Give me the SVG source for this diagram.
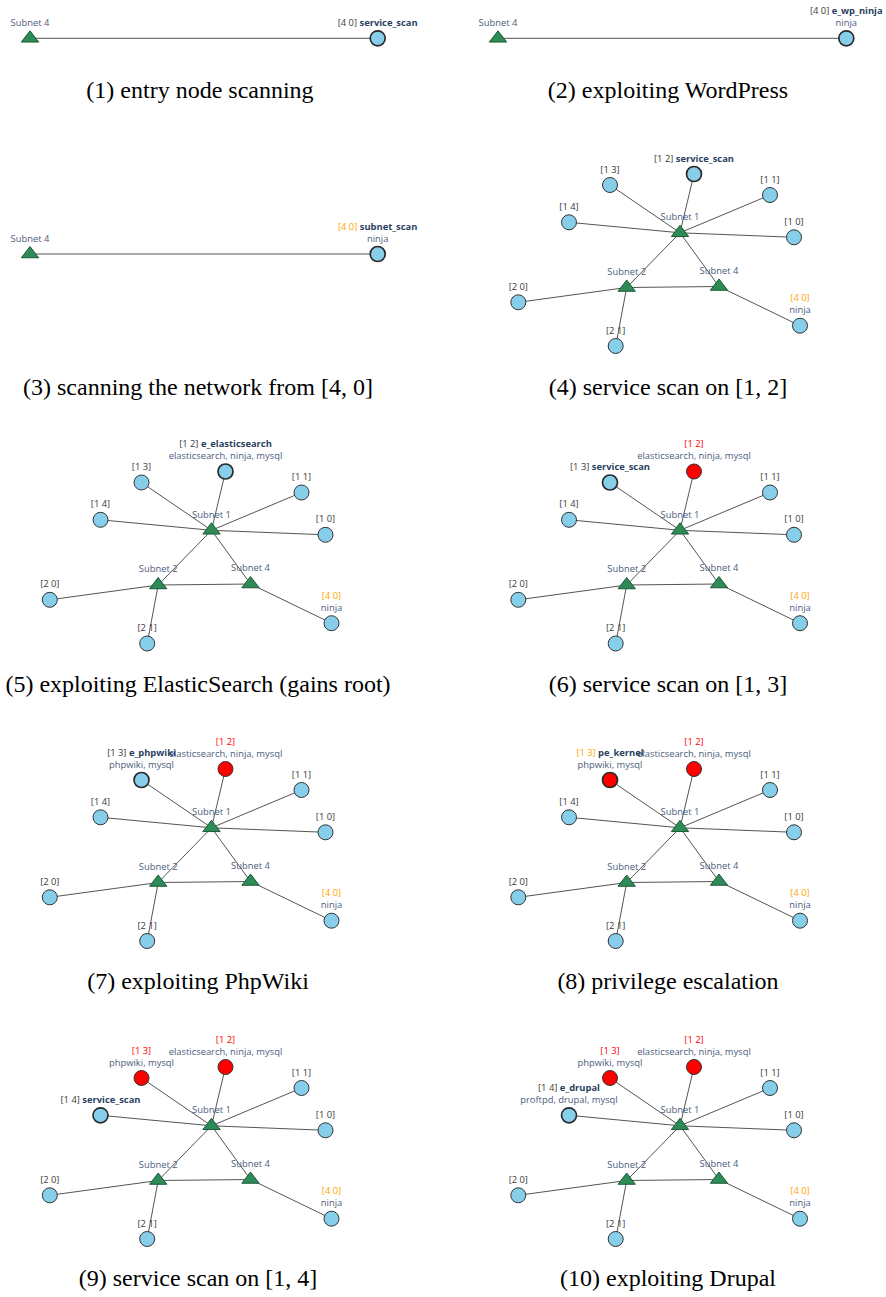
<svg xmlns="http://www.w3.org/2000/svg" xmlns:xlink="http://www.w3.org/1999/xlink" width="886" height="1297" viewBox="0 0 886 1297">
<style>
.tri{fill:#2e8b57;stroke:#1d5a36;stroke-width:1}
.host{fill:#87ceeb;stroke:#333;stroke-width:1}
.pwn{fill:#ff0000}
.cur{stroke-width:1.7;stroke:#2a2a2a}
.e{stroke:#555;stroke-width:1;fill:none}
.lbl{font-family:"Open Sans","Noto Sans",sans-serif;font-size:9.4px;text-anchor:middle;fill:#4c5d7d}
.id{fill:#3a3a3a}
.idr{fill:#ff0000}
.ido{fill:#ffa500}
.act{font-weight:bold;fill:#2a3f5f}
.cap{font-family:"Liberation Serif","Times New Roman",serif;font-size:24px;text-anchor:middle;fill:#000}
</style>
<defs>
<path id="tri" d="M-8.66,3.75H8.66L0,-7.5Z"/>
</defs>
<rect width="886" height="1297" fill="#fff"/>

<!-- Panel 1 -->
<g id="panel1">
<g id="p1-edges"><line class="e" x1="30" y1="38.3" x2="377.7" y2="38.3"/></g>
<g id="p1-s4"><use xlink:href="#tri" href="#tri" class="tri" x="30" y="38.3"/><text class="lbl" x="30" y="25.8">Subnet 4</text></g>
<g id="p1-n40"><circle class="host cur" cx="377.7" cy="38.3" r="7.5"/><text class="lbl" x="377.7" y="25.8"><tspan class="id">[4 0]</tspan> <tspan class="act">service_scan</tspan></text></g>
</g>

<!-- Panel 2 -->
<g id="panel2">
<g id="p2-edges"><line class="e" x1="498" y1="38.3" x2="846.3" y2="38.3"/></g>
<g id="p2-s4"><use xlink:href="#tri" href="#tri" class="tri" x="498" y="38.3"/><text class="lbl" x="498" y="25.8">Subnet 4</text></g>
<g id="p2-n40"><circle class="host cur" cx="846.3" cy="38.3" r="7.5"/><text class="lbl" x="846.3" y="13.8"><tspan class="id">[4 0]</tspan> <tspan class="act">e_wp_ninja</tspan></text><text class="lbl" x="846.3" y="25.8">ninja</text></g>
</g>

<!-- Panel 3 -->
<g id="panel3">
<g id="p3-edges"><line class="e" x1="30" y1="254" x2="377.7" y2="254"/></g>
<g id="p3-s4"><use xlink:href="#tri" href="#tri" class="tri" x="30" y="254"/><text class="lbl" x="30" y="241.5">Subnet 4</text></g>
<g id="p3-n40"><circle class="host cur" cx="377.7" cy="254" r="7.5"/><text class="lbl" x="377.7" y="229.5"><tspan class="ido">[4 0]</tspan> <tspan class="act">subnet_scan</tspan></text><text class="lbl" x="377.7" y="241.5">ninja</text></g>
</g>

<!-- Panel 4 -->
<g id="panel4">
<g id="p4-edges">
<line class="e" x1="680" y1="232.8" x2="694" y2="174"/>
<line class="e" x1="680" y1="232.8" x2="610" y2="185"/>
<line class="e" x1="680" y1="232.8" x2="770" y2="195"/>
<line class="e" x1="680" y1="232.8" x2="569" y2="222.3"/>
<line class="e" x1="680" y1="232.8" x2="794" y2="237.3"/>
<line class="e" x1="680" y1="232.8" x2="626.7" y2="287.5"/>
<line class="e" x1="680" y1="232.8" x2="719" y2="286.5"/>
<line class="e" x1="626.7" y1="287.5" x2="719" y2="286.5"/>
<line class="e" x1="626.7" y1="287.5" x2="518.3" y2="302.3"/>
<line class="e" x1="626.7" y1="287.5" x2="615.7" y2="346"/>
<line class="e" x1="719" y1="286.5" x2="800" y2="325.7"/>
</g>
<g id="p4-s1"><use xlink:href="#tri" href="#tri" class="tri" x="680" y="232.8"/><text class="lbl" x="680" y="220.3">Subnet 1</text></g>
<g id="p4-s2"><use xlink:href="#tri" href="#tri" class="tri" x="626.7" y="287.5"/><text class="lbl" x="626.7" y="274.8">Subnet 2</text></g>
<g id="p4-s4"><use xlink:href="#tri" href="#tri" class="tri" x="719" y="286.5"/><text class="lbl" x="719" y="273.8">Subnet 4</text></g>
<g id="p4-n12"><circle class="host cur" cx="694" cy="174" r="7.5"/><text class="lbl" x="694" y="161.5"><tspan class="id">[1 2]</tspan> <tspan class="act">service_scan</tspan></text></g>
<g id="p4-n13"><circle class="host" cx="610" cy="185" r="7.5"/><text class="lbl id" x="610" y="172.5">[1 3]</text></g>
<g id="p4-n11"><circle class="host" cx="770" cy="195" r="7.5"/><text class="lbl id" x="770" y="182.5">[1 1]</text></g>
<g id="p4-n14"><circle class="host" cx="569" cy="222.3" r="7.5"/><text class="lbl id" x="569" y="209.8">[1 4]</text></g>
<g id="p4-n10"><circle class="host" cx="794" cy="237.3" r="7.5"/><text class="lbl id" x="794" y="224.8">[1 0]</text></g>
<g id="p4-n20"><circle class="host" cx="518.3" cy="302.3" r="7.5"/><text class="lbl id" x="518.3" y="289.8">[2 0]</text></g>
<g id="p4-n21"><circle class="host" cx="615.7" cy="346" r="7.5"/><text class="lbl id" x="615.7" y="333.5">[2 1]</text></g>
<g id="p4-n40"><circle class="host" cx="800" cy="325.7" r="7.5"/><text class="lbl ido" x="800" y="301.2">[4 0]</text><text class="lbl" x="800" y="313.2">ninja</text></g>
</g>

<!-- Panel 5 -->
<g id="panel5" transform="translate(-468.5,297.5)">
<g id="p5-edges">
<line class="e" x1="680" y1="232.8" x2="694" y2="174"/>
<line class="e" x1="680" y1="232.8" x2="610" y2="185"/>
<line class="e" x1="680" y1="232.8" x2="770" y2="195"/>
<line class="e" x1="680" y1="232.8" x2="569" y2="222.3"/>
<line class="e" x1="680" y1="232.8" x2="794" y2="237.3"/>
<line class="e" x1="680" y1="232.8" x2="626.7" y2="287.5"/>
<line class="e" x1="680" y1="232.8" x2="719" y2="286.5"/>
<line class="e" x1="626.7" y1="287.5" x2="719" y2="286.5"/>
<line class="e" x1="626.7" y1="287.5" x2="518.3" y2="302.3"/>
<line class="e" x1="626.7" y1="287.5" x2="615.7" y2="346"/>
<line class="e" x1="719" y1="286.5" x2="800" y2="325.7"/>
</g>
<g id="p5-s1"><use xlink:href="#tri" href="#tri" class="tri" x="680" y="232.8"/><text class="lbl" x="680" y="220.3">Subnet 1</text></g>
<g id="p5-s2"><use xlink:href="#tri" href="#tri" class="tri" x="626.7" y="287.5"/><text class="lbl" x="626.7" y="274.8">Subnet 2</text></g>
<g id="p5-s4"><use xlink:href="#tri" href="#tri" class="tri" x="719" y="286.5"/><text class="lbl" x="719" y="273.8">Subnet 4</text></g>
<g id="p5-n12"><circle class="host cur" cx="694" cy="174" r="7.5"/><text class="lbl" x="694" y="149.5"><tspan class="id">[1 2]</tspan> <tspan class="act">e_elasticsearch</tspan></text><text class="lbl" x="694" y="161.5">elasticsearch, ninja, mysql</text></g>
<g id="p5-n13"><circle class="host" cx="610" cy="185" r="7.5"/><text class="lbl id" x="610" y="172.5">[1 3]</text></g>
<g id="p5-n11"><circle class="host" cx="770" cy="195" r="7.5"/><text class="lbl id" x="770" y="182.5">[1 1]</text></g>
<g id="p5-n14"><circle class="host" cx="569" cy="222.3" r="7.5"/><text class="lbl id" x="569" y="209.8">[1 4]</text></g>
<g id="p5-n10"><circle class="host" cx="794" cy="237.3" r="7.5"/><text class="lbl id" x="794" y="224.8">[1 0]</text></g>
<g id="p5-n20"><circle class="host" cx="518.3" cy="302.3" r="7.5"/><text class="lbl id" x="518.3" y="289.8">[2 0]</text></g>
<g id="p5-n21"><circle class="host" cx="615.7" cy="346" r="7.5"/><text class="lbl id" x="615.7" y="333.5">[2 1]</text></g>
<g id="p5-n40"><circle class="host" cx="800" cy="325.7" r="7.5"/><text class="lbl ido" x="800" y="301.2">[4 0]</text><text class="lbl" x="800" y="313.2">ninja</text></g>
</g>

<!-- Panel 6 -->
<g id="panel6" transform="translate(0,297.5)">
<g id="p6-edges">
<line class="e" x1="680" y1="232.8" x2="694" y2="174"/>
<line class="e" x1="680" y1="232.8" x2="610" y2="185"/>
<line class="e" x1="680" y1="232.8" x2="770" y2="195"/>
<line class="e" x1="680" y1="232.8" x2="569" y2="222.3"/>
<line class="e" x1="680" y1="232.8" x2="794" y2="237.3"/>
<line class="e" x1="680" y1="232.8" x2="626.7" y2="287.5"/>
<line class="e" x1="680" y1="232.8" x2="719" y2="286.5"/>
<line class="e" x1="626.7" y1="287.5" x2="719" y2="286.5"/>
<line class="e" x1="626.7" y1="287.5" x2="518.3" y2="302.3"/>
<line class="e" x1="626.7" y1="287.5" x2="615.7" y2="346"/>
<line class="e" x1="719" y1="286.5" x2="800" y2="325.7"/>
</g>
<g id="p6-s1"><use xlink:href="#tri" href="#tri" class="tri" x="680" y="232.8"/><text class="lbl" x="680" y="220.3">Subnet 1</text></g>
<g id="p6-s2"><use xlink:href="#tri" href="#tri" class="tri" x="626.7" y="287.5"/><text class="lbl" x="626.7" y="274.8">Subnet 2</text></g>
<g id="p6-s4"><use xlink:href="#tri" href="#tri" class="tri" x="719" y="286.5"/><text class="lbl" x="719" y="273.8">Subnet 4</text></g>
<g id="p6-n12"><circle class="host pwn" cx="694" cy="174" r="7.5"/><text class="lbl idr" x="694" y="149.5">[1 2]</text><text class="lbl" x="694" y="161.5">elasticsearch, ninja, mysql</text></g>
<g id="p6-n13"><circle class="host cur" cx="610" cy="185" r="7.5"/><text class="lbl" x="610" y="172.5"><tspan class="id">[1 3]</tspan> <tspan class="act">service_scan</tspan></text></g>
<g id="p6-n11"><circle class="host" cx="770" cy="195" r="7.5"/><text class="lbl id" x="770" y="182.5">[1 1]</text></g>
<g id="p6-n14"><circle class="host" cx="569" cy="222.3" r="7.5"/><text class="lbl id" x="569" y="209.8">[1 4]</text></g>
<g id="p6-n10"><circle class="host" cx="794" cy="237.3" r="7.5"/><text class="lbl id" x="794" y="224.8">[1 0]</text></g>
<g id="p6-n20"><circle class="host" cx="518.3" cy="302.3" r="7.5"/><text class="lbl id" x="518.3" y="289.8">[2 0]</text></g>
<g id="p6-n21"><circle class="host" cx="615.7" cy="346" r="7.5"/><text class="lbl id" x="615.7" y="333.5">[2 1]</text></g>
<g id="p6-n40"><circle class="host" cx="800" cy="325.7" r="7.5"/><text class="lbl ido" x="800" y="301.2">[4 0]</text><text class="lbl" x="800" y="313.2">ninja</text></g>
</g>

<!-- Panel 7 -->
<g id="panel7" transform="translate(-468.5,595)">
<g id="p7-edges">
<line class="e" x1="680" y1="232.8" x2="694" y2="174"/>
<line class="e" x1="680" y1="232.8" x2="610" y2="185"/>
<line class="e" x1="680" y1="232.8" x2="770" y2="195"/>
<line class="e" x1="680" y1="232.8" x2="569" y2="222.3"/>
<line class="e" x1="680" y1="232.8" x2="794" y2="237.3"/>
<line class="e" x1="680" y1="232.8" x2="626.7" y2="287.5"/>
<line class="e" x1="680" y1="232.8" x2="719" y2="286.5"/>
<line class="e" x1="626.7" y1="287.5" x2="719" y2="286.5"/>
<line class="e" x1="626.7" y1="287.5" x2="518.3" y2="302.3"/>
<line class="e" x1="626.7" y1="287.5" x2="615.7" y2="346"/>
<line class="e" x1="719" y1="286.5" x2="800" y2="325.7"/>
</g>
<g id="p7-s1"><use xlink:href="#tri" href="#tri" class="tri" x="680" y="232.8"/><text class="lbl" x="680" y="220.3">Subnet 1</text></g>
<g id="p7-s2"><use xlink:href="#tri" href="#tri" class="tri" x="626.7" y="287.5"/><text class="lbl" x="626.7" y="274.8">Subnet 2</text></g>
<g id="p7-s4"><use xlink:href="#tri" href="#tri" class="tri" x="719" y="286.5"/><text class="lbl" x="719" y="273.8">Subnet 4</text></g>
<g id="p7-n12"><circle class="host pwn" cx="694" cy="174" r="7.5"/><text class="lbl idr" x="694" y="149.5">[1 2]</text><text class="lbl" x="694" y="161.5">elasticsearch, ninja, mysql</text></g>
<g id="p7-n13"><circle class="host cur" cx="610" cy="185" r="7.5"/><text class="lbl" x="610" y="160.5"><tspan class="id">[1 3]</tspan> <tspan class="act">e_phpwiki</tspan></text><text class="lbl" x="610" y="172.5">phpwiki, mysql</text></g>
<g id="p7-n11"><circle class="host" cx="770" cy="195" r="7.5"/><text class="lbl id" x="770" y="182.5">[1 1]</text></g>
<g id="p7-n14"><circle class="host" cx="569" cy="222.3" r="7.5"/><text class="lbl id" x="569" y="209.8">[1 4]</text></g>
<g id="p7-n10"><circle class="host" cx="794" cy="237.3" r="7.5"/><text class="lbl id" x="794" y="224.8">[1 0]</text></g>
<g id="p7-n20"><circle class="host" cx="518.3" cy="302.3" r="7.5"/><text class="lbl id" x="518.3" y="289.8">[2 0]</text></g>
<g id="p7-n21"><circle class="host" cx="615.7" cy="346" r="7.5"/><text class="lbl id" x="615.7" y="333.5">[2 1]</text></g>
<g id="p7-n40"><circle class="host" cx="800" cy="325.7" r="7.5"/><text class="lbl ido" x="800" y="301.2">[4 0]</text><text class="lbl" x="800" y="313.2">ninja</text></g>
</g>

<!-- Panel 8 -->
<g id="panel8" transform="translate(0,595)">
<g id="p8-edges">
<line class="e" x1="680" y1="232.8" x2="694" y2="174"/>
<line class="e" x1="680" y1="232.8" x2="610" y2="185"/>
<line class="e" x1="680" y1="232.8" x2="770" y2="195"/>
<line class="e" x1="680" y1="232.8" x2="569" y2="222.3"/>
<line class="e" x1="680" y1="232.8" x2="794" y2="237.3"/>
<line class="e" x1="680" y1="232.8" x2="626.7" y2="287.5"/>
<line class="e" x1="680" y1="232.8" x2="719" y2="286.5"/>
<line class="e" x1="626.7" y1="287.5" x2="719" y2="286.5"/>
<line class="e" x1="626.7" y1="287.5" x2="518.3" y2="302.3"/>
<line class="e" x1="626.7" y1="287.5" x2="615.7" y2="346"/>
<line class="e" x1="719" y1="286.5" x2="800" y2="325.7"/>
</g>
<g id="p8-s1"><use xlink:href="#tri" href="#tri" class="tri" x="680" y="232.8"/><text class="lbl" x="680" y="220.3">Subnet 1</text></g>
<g id="p8-s2"><use xlink:href="#tri" href="#tri" class="tri" x="626.7" y="287.5"/><text class="lbl" x="626.7" y="274.8">Subnet 2</text></g>
<g id="p8-s4"><use xlink:href="#tri" href="#tri" class="tri" x="719" y="286.5"/><text class="lbl" x="719" y="273.8">Subnet 4</text></g>
<g id="p8-n12"><circle class="host pwn" cx="694" cy="174" r="7.5"/><text class="lbl idr" x="694" y="149.5">[1 2]</text><text class="lbl" x="694" y="161.5">elasticsearch, ninja, mysql</text></g>
<g id="p8-n13"><circle class="host pwn cur" cx="610" cy="185" r="7.5"/><text class="lbl" x="610" y="160.5"><tspan class="ido">[1 3]</tspan> <tspan class="act">pe_kernel</tspan></text><text class="lbl" x="610" y="172.5">phpwiki, mysql</text></g>
<g id="p8-n11"><circle class="host" cx="770" cy="195" r="7.5"/><text class="lbl id" x="770" y="182.5">[1 1]</text></g>
<g id="p8-n14"><circle class="host" cx="569" cy="222.3" r="7.5"/><text class="lbl id" x="569" y="209.8">[1 4]</text></g>
<g id="p8-n10"><circle class="host" cx="794" cy="237.3" r="7.5"/><text class="lbl id" x="794" y="224.8">[1 0]</text></g>
<g id="p8-n20"><circle class="host" cx="518.3" cy="302.3" r="7.5"/><text class="lbl id" x="518.3" y="289.8">[2 0]</text></g>
<g id="p8-n21"><circle class="host" cx="615.7" cy="346" r="7.5"/><text class="lbl id" x="615.7" y="333.5">[2 1]</text></g>
<g id="p8-n40"><circle class="host" cx="800" cy="325.7" r="7.5"/><text class="lbl ido" x="800" y="301.2">[4 0]</text><text class="lbl" x="800" y="313.2">ninja</text></g>
</g>

<!-- Panel 9 -->
<g id="panel9" transform="translate(-468.5,893)">
<g id="p9-edges">
<line class="e" x1="680" y1="232.8" x2="694" y2="174"/>
<line class="e" x1="680" y1="232.8" x2="610" y2="185"/>
<line class="e" x1="680" y1="232.8" x2="770" y2="195"/>
<line class="e" x1="680" y1="232.8" x2="569" y2="222.3"/>
<line class="e" x1="680" y1="232.8" x2="794" y2="237.3"/>
<line class="e" x1="680" y1="232.8" x2="626.7" y2="287.5"/>
<line class="e" x1="680" y1="232.8" x2="719" y2="286.5"/>
<line class="e" x1="626.7" y1="287.5" x2="719" y2="286.5"/>
<line class="e" x1="626.7" y1="287.5" x2="518.3" y2="302.3"/>
<line class="e" x1="626.7" y1="287.5" x2="615.7" y2="346"/>
<line class="e" x1="719" y1="286.5" x2="800" y2="325.7"/>
</g>
<g id="p9-s1"><use xlink:href="#tri" href="#tri" class="tri" x="680" y="232.8"/><text class="lbl" x="680" y="220.3">Subnet 1</text></g>
<g id="p9-s2"><use xlink:href="#tri" href="#tri" class="tri" x="626.7" y="287.5"/><text class="lbl" x="626.7" y="274.8">Subnet 2</text></g>
<g id="p9-s4"><use xlink:href="#tri" href="#tri" class="tri" x="719" y="286.5"/><text class="lbl" x="719" y="273.8">Subnet 4</text></g>
<g id="p9-n12"><circle class="host pwn" cx="694" cy="174" r="7.5"/><text class="lbl idr" x="694" y="149.5">[1 2]</text><text class="lbl" x="694" y="161.5">elasticsearch, ninja, mysql</text></g>
<g id="p9-n13"><circle class="host pwn" cx="610" cy="185" r="7.5"/><text class="lbl idr" x="610" y="160.5">[1 3]</text><text class="lbl" x="610" y="172.5">phpwiki, mysql</text></g>
<g id="p9-n11"><circle class="host" cx="770" cy="195" r="7.5"/><text class="lbl id" x="770" y="182.5">[1 1]</text></g>
<g id="p9-n14"><circle class="host cur" cx="569" cy="222.3" r="7.5"/><text class="lbl" x="569" y="209.8"><tspan class="id">[1 4]</tspan> <tspan class="act">service_scan</tspan></text></g>
<g id="p9-n10"><circle class="host" cx="794" cy="237.3" r="7.5"/><text class="lbl id" x="794" y="224.8">[1 0]</text></g>
<g id="p9-n20"><circle class="host" cx="518.3" cy="302.3" r="7.5"/><text class="lbl id" x="518.3" y="289.8">[2 0]</text></g>
<g id="p9-n21"><circle class="host" cx="615.7" cy="346" r="7.5"/><text class="lbl id" x="615.7" y="333.5">[2 1]</text></g>
<g id="p9-n40"><circle class="host" cx="800" cy="325.7" r="7.5"/><text class="lbl ido" x="800" y="301.2">[4 0]</text><text class="lbl" x="800" y="313.2">ninja</text></g>
</g>

<!-- Panel 10 -->
<g id="panel10" transform="translate(0,893)">
<g id="p10-edges">
<line class="e" x1="680" y1="232.8" x2="694" y2="174"/>
<line class="e" x1="680" y1="232.8" x2="610" y2="185"/>
<line class="e" x1="680" y1="232.8" x2="770" y2="195"/>
<line class="e" x1="680" y1="232.8" x2="569" y2="222.3"/>
<line class="e" x1="680" y1="232.8" x2="794" y2="237.3"/>
<line class="e" x1="680" y1="232.8" x2="626.7" y2="287.5"/>
<line class="e" x1="680" y1="232.8" x2="719" y2="286.5"/>
<line class="e" x1="626.7" y1="287.5" x2="719" y2="286.5"/>
<line class="e" x1="626.7" y1="287.5" x2="518.3" y2="302.3"/>
<line class="e" x1="626.7" y1="287.5" x2="615.7" y2="346"/>
<line class="e" x1="719" y1="286.5" x2="800" y2="325.7"/>
</g>
<g id="p10-s1"><use xlink:href="#tri" href="#tri" class="tri" x="680" y="232.8"/><text class="lbl" x="680" y="220.3">Subnet 1</text></g>
<g id="p10-s2"><use xlink:href="#tri" href="#tri" class="tri" x="626.7" y="287.5"/><text class="lbl" x="626.7" y="274.8">Subnet 2</text></g>
<g id="p10-s4"><use xlink:href="#tri" href="#tri" class="tri" x="719" y="286.5"/><text class="lbl" x="719" y="273.8">Subnet 4</text></g>
<g id="p10-n12"><circle class="host pwn" cx="694" cy="174" r="7.5"/><text class="lbl idr" x="694" y="149.5">[1 2]</text><text class="lbl" x="694" y="161.5">elasticsearch, ninja, mysql</text></g>
<g id="p10-n13"><circle class="host pwn" cx="610" cy="185" r="7.5"/><text class="lbl idr" x="610" y="160.5">[1 3]</text><text class="lbl" x="610" y="172.5">phpwiki, mysql</text></g>
<g id="p10-n11"><circle class="host" cx="770" cy="195" r="7.5"/><text class="lbl id" x="770" y="182.5">[1 1]</text></g>
<g id="p10-n14"><circle class="host cur" cx="569" cy="222.3" r="7.5"/><text class="lbl" x="569" y="197.8"><tspan class="id">[1 4]</tspan> <tspan class="act">e_drupal</tspan></text><text class="lbl" x="569" y="209.8">proftpd, drupal, mysql</text></g>
<g id="p10-n10"><circle class="host" cx="794" cy="237.3" r="7.5"/><text class="lbl id" x="794" y="224.8">[1 0]</text></g>
<g id="p10-n20"><circle class="host" cx="518.3" cy="302.3" r="7.5"/><text class="lbl id" x="518.3" y="289.8">[2 0]</text></g>
<g id="p10-n21"><circle class="host" cx="615.7" cy="346" r="7.5"/><text class="lbl id" x="615.7" y="333.5">[2 1]</text></g>
<g id="p10-n40"><circle class="host" cx="800" cy="325.7" r="7.5"/><text class="lbl ido" x="800" y="301.2">[4 0]</text><text class="lbl" x="800" y="313.2">ninja</text></g>
</g>

<!-- Captions -->
<g id="captions">
<text class="cap" x="200" y="98">(1) entry node scanning</text>
<text class="cap" x="668" y="98">(2) exploiting WordPress</text>
<text class="cap" x="198" y="395">(3) scanning the network from [4, 0]</text>
<text class="cap" x="668" y="395">(4) service scan on [1, 2]</text>
<text class="cap" x="198" y="692">(5) exploiting ElasticSearch (gains root)</text>
<text class="cap" x="668" y="692">(6) service scan on [1, 3]</text>
<text class="cap" x="198" y="989">(7) exploiting PhpWiki</text>
<text class="cap" x="668" y="989">(8) privilege escalation</text>
<text class="cap" x="198" y="1286">(9) service scan on [1, 4]</text>
<text class="cap" x="668" y="1286">(10) exploiting Drupal</text>
</g>
</svg>
